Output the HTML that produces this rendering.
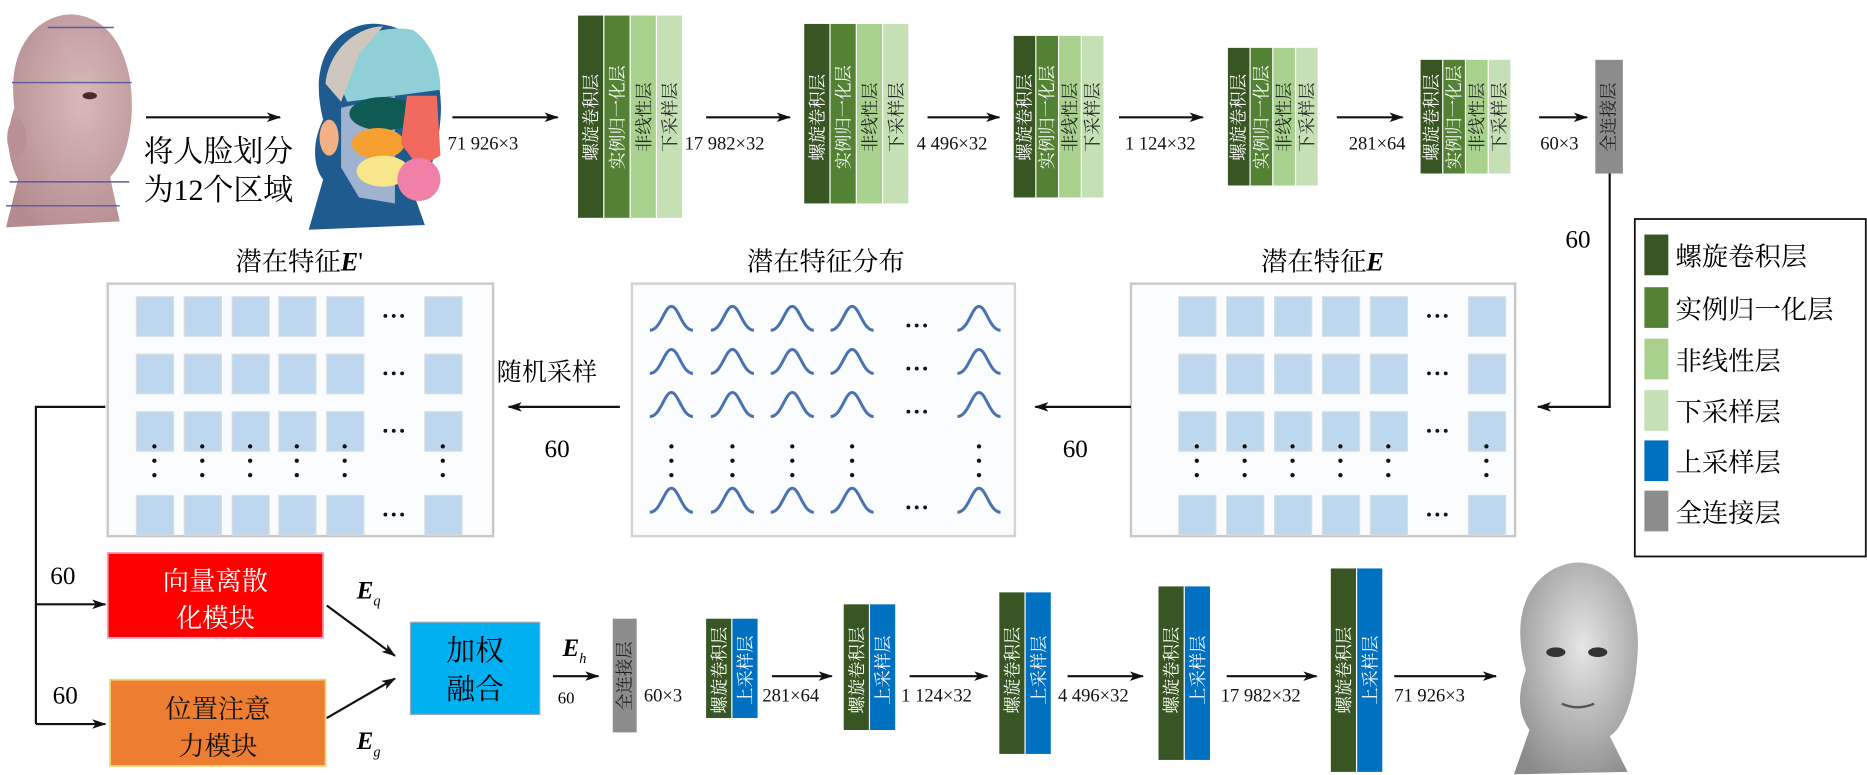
<!DOCTYPE html>
<html><head><meta charset="utf-8">
<style>
html,body{margin:0;padding:0;background:#fff;}
svg{display:block;}
text{font-family:"Liberation Serif","Noto Serif CJK SC",serif;}
.v{fill:#fff;font-size:14.5px;}
.vd{fill:#222;font-size:14.5px;}
.lab{font-size:15.5px;fill:#111;}
</style></head>
<body>
<svg width="1867" height="775" viewBox="0 0 1560 647.6" preserveAspectRatio="none" xmlns="http://www.w3.org/2000/svg">
<defs>
<marker id="ah" markerWidth="12" markerHeight="8" refX="11" refY="4" orient="auto" markerUnits="userSpaceOnUse">
<path d="M0,0 L12,4 L0,8 L3,4 Z" fill="#111"/></marker>
<radialGradient id="skin" cx="0.6" cy="0.4" r="0.7"><stop offset="0" stop-color="#d8b9bb"/><stop offset="1" stop-color="#b48c90"/></radialGradient>
<radialGradient id="gray" cx="0.55" cy="0.4" r="0.7"><stop offset="0" stop-color="#e6e6e6"/><stop offset="1" stop-color="#8a8a8a"/></radialGradient>
</defs>

<!-- Head 1 -->
<g>
<path d="M12,90 C5,35 35,12 60,12 C95,14 112,50 110,95 C108,125 100,140 92,148 L100,185 L5,190 L15,150 C5,130 5,110 12,90 Z" fill="url(#skin)"/>
<ellipse cx="14" cy="115" rx="8" ry="16" fill="#b89096"/>
<line x1="40" y1="23" x2="95" y2="23" stroke="#5a5aa0" stroke-width="1.2"/>
<line x1="10" y1="69" x2="110" y2="69" stroke="#5a5aa0" stroke-width="1.2"/>
<line x1="8" y1="152" x2="108" y2="152" stroke="#5a5aa0" stroke-width="1.2"/>
<line x1="5" y1="172" x2="100" y2="172" stroke="#5a5aa0" stroke-width="1.2"/>
<ellipse cx="75" cy="80" rx="6" ry="3" fill="#4a2a2a"/>
</g>
<line x1="122" y1="98" x2="234" y2="98" stroke="#111" stroke-width="1.8" marker-end="url(#ah)"/>
<text x="120" y="135" font-size="25">将人脸划分</text>
<text x="120" y="167" font-size="25">为12个区域</text>

<!-- Head 2 -->
<g>
<path d="M270,100 C255,40 290,18 315,20 C350,22 372,55 368,100 C365,135 355,155 345,160 L355,188 L258,192 L270,150 C262,140 260,120 270,100 Z" fill="#1f5b8f"/>
<path d="M280,60 C290,30 320,20 345,25 C360,35 368,55 368,75 L330,80 L290,85 Z" fill="#8fd0d6"/>
<path d="M272,70 C275,40 300,22 320,22 L300,45 L285,85 Z" fill="#cfc7bd"/>
<path d="M285,90 L330,80 L330,170 L300,165 L285,140 Z" fill="#9fb2d0"/>
<ellipse cx="320" cy="95" rx="28" ry="14" fill="#0f5a52"/>
<ellipse cx="316" cy="120" rx="22" ry="13" fill="#f5a030"/>
<ellipse cx="320" cy="143" rx="22" ry="13" fill="#f7e68a"/>
<path d="M340,80 L365,80 L368,130 L350,140 L335,120 Z" fill="#f26a5e"/>
<ellipse cx="350" cy="150" rx="18" ry="18" fill="#f080a8"/>
<ellipse cx="275" cy="115" rx="8" ry="15" fill="#f2b084"/>
</g>
<line x1="378" y1="98" x2="466" y2="98" stroke="#111" stroke-width="1.8" marker-end="url(#ah)"/>
<text x="374" y="125" class="lab">71 926×3</text>

<!-- Encoder block 1 -->
<g>
<rect x="483" y="13" width="21" height="169" fill="#375623"/><rect x="505" y="13" width="21" height="169" fill="#548235"/>
<rect x="527" y="13" width="21" height="169" fill="#a9d18e"/><rect x="549" y="13" width="21" height="169" fill="#c5e0b4"/>
<text class="v" transform="translate(499,98) rotate(-90)" text-anchor="middle">螺旋卷积层</text>
<text class="v" transform="translate(521,98) rotate(-90)" text-anchor="middle">实例归一化层</text>
<text class="vd" transform="translate(543,98) rotate(-90)" text-anchor="middle">非线性层</text>
<text class="vd" transform="translate(565,98) rotate(-90)" text-anchor="middle">下采样层</text>
</g>
<line x1="590" y1="98" x2="660" y2="98" stroke="#111" stroke-width="1.8" marker-end="url(#ah)"/>
<text x="572" y="125" class="lab">17 982×32</text>
<!-- block 2 -->
<g>
<rect x="672" y="20" width="21" height="150" fill="#375623"/><rect x="694" y="20" width="21" height="150" fill="#548235"/>
<rect x="716" y="20" width="21" height="150" fill="#a9d18e"/><rect x="738" y="20" width="21" height="150" fill="#c5e0b4"/>
<text class="v" transform="translate(688,98) rotate(-90)" text-anchor="middle">螺旋卷积层</text>
<text class="v" transform="translate(710,98) rotate(-90)" text-anchor="middle">实例归一化层</text>
<text class="vd" transform="translate(732,98) rotate(-90)" text-anchor="middle">非线性层</text>
<text class="vd" transform="translate(754,98) rotate(-90)" text-anchor="middle">下采样层</text>
</g>
<line x1="775" y1="98" x2="835" y2="98" stroke="#111" stroke-width="1.8" marker-end="url(#ah)"/>
<text x="766" y="125" class="lab">4 496×32</text>
<!-- block 3 -->
<g>
<rect x="847" y="30" width="18" height="135" fill="#375623"/><rect x="866" y="30" width="18" height="135" fill="#548235"/>
<rect x="885" y="30" width="18" height="135" fill="#a9d18e"/><rect x="904" y="30" width="18" height="135" fill="#c5e0b4"/>
<text class="v" transform="translate(861,98) rotate(-90)" text-anchor="middle">螺旋卷积层</text>
<text class="v" transform="translate(880,98) rotate(-90)" text-anchor="middle">实例归一化层</text>
<text class="vd" transform="translate(899,98) rotate(-90)" text-anchor="middle">非线性层</text>
<text class="vd" transform="translate(918,98) rotate(-90)" text-anchor="middle">下采样层</text>
</g>
<line x1="935" y1="98" x2="1005" y2="98" stroke="#111" stroke-width="1.8" marker-end="url(#ah)"/>
<text x="940" y="125" class="lab">1 124×32</text>
<!-- block 4 -->
<g>
<rect x="1026" y="40" width="18" height="115" fill="#375623"/><rect x="1045" y="40" width="18" height="115" fill="#548235"/>
<rect x="1064" y="40" width="18" height="115" fill="#a9d18e"/><rect x="1083" y="40" width="18" height="115" fill="#c5e0b4"/>
<text class="v" transform="translate(1040,98) rotate(-90)" text-anchor="middle">螺旋卷积层</text>
<text class="v" transform="translate(1059,98) rotate(-90)" text-anchor="middle">实例归一化层</text>
<text class="vd" transform="translate(1078,98) rotate(-90)" text-anchor="middle">非线性层</text>
<text class="vd" transform="translate(1097,98) rotate(-90)" text-anchor="middle">下采样层</text>
</g>
<line x1="1117" y1="98" x2="1172" y2="98" stroke="#111" stroke-width="1.8" marker-end="url(#ah)"/>
<text x="1127" y="125" class="lab">281×64</text>
<!-- block 5 -->
<g>
<rect x="1187" y="50" width="18" height="95" fill="#375623"/><rect x="1206" y="50" width="18" height="95" fill="#548235"/>
<rect x="1225" y="50" width="18" height="95" fill="#a9d18e"/><rect x="1244" y="50" width="18" height="95" fill="#c5e0b4"/>
<text class="v" transform="translate(1201,98) rotate(-90)" text-anchor="middle">螺旋卷积层</text>
<text class="v" transform="translate(1220,98) rotate(-90)" text-anchor="middle">实例归一化层</text>
<text class="vd" transform="translate(1239,98) rotate(-90)" text-anchor="middle">非线性层</text>
<text class="vd" transform="translate(1258,98) rotate(-90)" text-anchor="middle">下采样层</text>
</g>
<line x1="1286" y1="98" x2="1326" y2="98" stroke="#111" stroke-width="1.8" marker-end="url(#ah)"/>
<text x="1287" y="125" class="lab">60×3</text>
<rect x="1333" y="50" width="23" height="95" fill="#8c8c8c"/>
<text class="vd" transform="translate(1349,98) rotate(-90)" text-anchor="middle">全连接层</text>

<!-- connector to E -->
<polyline points="1345,145 1345,340 1285,340" fill="none" stroke="#111" stroke-width="1.8" marker-end="url(#ah)"/>
<text x="1308" y="207" font-size="21">60</text>

<!-- Legend -->
<rect x="1366" y="183" width="193" height="282" fill="#fff" stroke="#111" stroke-width="1.5"/>
<g font-size="22">
<rect x="1374" y="196" width="20" height="34" fill="#375623"/><text x="1400" y="222">螺旋卷积层</text>
<rect x="1374" y="240" width="20" height="34" fill="#548235"/><text x="1400" y="266">实例归一化层</text>
<rect x="1374" y="283" width="20" height="34" fill="#a9d18e"/><text x="1400" y="309">非线性层</text>
<rect x="1374" y="326" width="20" height="34" fill="#c5e0b4"/><text x="1400" y="352">下采样层</text>
<rect x="1374" y="368" width="20" height="34" fill="#0070c0"/><text x="1400" y="394">上采样层</text>
<rect x="1374" y="410" width="20" height="34" fill="#8c8c8c"/><text x="1400" y="436">全连接层</text>
</g>

<!-- Panels -->
<rect x="945" y="237" width="321" height="211" fill="#fbfcfd" stroke="#c8c8c8" stroke-width="2"/>
<rect x="528" y="237" width="320" height="211" fill="#fbfcfd" stroke="#d8d0d4" stroke-width="2"/>
<rect x="90" y="237" width="322" height="211" fill="#fbfcfd" stroke="#c8c8c8" stroke-width="2"/>
<text x="1105" y="226" font-size="22" text-anchor="middle">潜在特征<tspan font-weight="bold" font-style="italic">E</tspan></text>
<text x="690" y="226" font-size="22" text-anchor="middle">潜在特征分布</text>
<text x="250" y="226" font-size="22" text-anchor="middle">潜在特征<tspan font-weight="bold" font-style="italic">E</tspan>'</text>
<g id="grids"></g>

<line x1="945" y1="340" x2="865" y2="340" stroke="#111" stroke-width="1.8" marker-end="url(#ah)"/>
<text x="888" y="382" font-size="21">60</text>
<line x1="518" y1="340" x2="425" y2="340" stroke="#111" stroke-width="1.8" marker-end="url(#ah)"/>
<text x="415" y="318" font-size="21">随机采样</text>
<text x="455" y="382" font-size="21">60</text>

<!-- left bus -->
<polyline points="88,340 30,340 30,605" fill="none" stroke="#111" stroke-width="1.8"/>
<line x1="30" y1="505" x2="88" y2="505" stroke="#111" stroke-width="1.8" marker-end="url(#ah)"/>
<line x1="30" y1="605" x2="88" y2="605" stroke="#111" stroke-width="1.8" marker-end="url(#ah)"/>
<text x="42" y="488" font-size="21">60</text>
<text x="44" y="588" font-size="21">60</text>

<rect x="90" y="462" width="180" height="71" fill="#ff0000" stroke="#f0a0c0" stroke-width="1.5"/>
<text x="180" y="493" font-size="22" fill="#fff" text-anchor="middle">向量离散</text>
<text x="180" y="524" font-size="22" fill="#fff" text-anchor="middle">化模块</text>
<rect x="92" y="568" width="180" height="72" fill="#ed7d31" stroke="#f0d070" stroke-width="1.5"/>
<text x="182" y="600" font-size="22" fill="#111" text-anchor="middle">位置注意</text>
<text x="182" y="631" font-size="22" fill="#111" text-anchor="middle">力模块</text>

<line x1="273" y1="506" x2="330" y2="548" stroke="#111" stroke-width="1.8" marker-end="url(#ah)"/>
<line x1="273" y1="600" x2="330" y2="567" stroke="#111" stroke-width="1.8" marker-end="url(#ah)"/>
<text x="298" y="500" font-size="21" font-weight="bold" font-style="italic">E<tspan font-size="12" dy="6" font-weight="normal">q</tspan></text>
<text x="298" y="626" font-size="21" font-weight="bold" font-style="italic">E<tspan font-size="12" dy="6" font-weight="normal">g</tspan></text>

<rect x="343" y="520" width="108" height="77" fill="#00b0f0" stroke="#9ab" stroke-width="1"/>
<text x="397" y="552" font-size="24" text-anchor="middle">加权</text>
<text x="397" y="584" font-size="24" text-anchor="middle">融合</text>
<text x="470" y="548" font-size="21" font-weight="bold" font-style="italic">E<tspan font-size="12" dy="6" font-weight="normal">h</tspan></text>
<line x1="462" y1="565" x2="500" y2="565" stroke="#111" stroke-width="1.8" marker-end="url(#ah)"/>
<text x="466" y="588" font-size="14">60</text>

<rect x="512" y="517" width="20" height="95" fill="#8c8c8c"/>
<text class="vd" transform="translate(527,565) rotate(-90)" text-anchor="middle">全连接层</text>
<text x="538" y="586" class="lab">60×3</text>

<!-- decoder blocks -->
<g>
<rect x="590" y="517" width="21" height="83" fill="#375623"/><rect x="612" y="517" width="21" height="83" fill="#0070c0"/>
<text class="v" transform="translate(606,560) rotate(-90)" text-anchor="middle">螺旋卷积层</text>
<text class="v" transform="translate(628,560) rotate(-90)" text-anchor="middle">上采样层</text>
</g>
<line x1="645" y1="565" x2="695" y2="565" stroke="#111" stroke-width="1.8" marker-end="url(#ah)"/>
<text x="637" y="586" class="lab">281×64</text>
<g>
<rect x="705" y="505" width="21" height="105" fill="#375623"/><rect x="727" y="505" width="21" height="105" fill="#0070c0"/>
<text class="v" transform="translate(721,560) rotate(-90)" text-anchor="middle">螺旋卷积层</text>
<text class="v" transform="translate(743,560) rotate(-90)" text-anchor="middle">上采样层</text>
</g>
<line x1="760" y1="565" x2="825" y2="565" stroke="#111" stroke-width="1.8" marker-end="url(#ah)"/>
<text x="753" y="586" class="lab">1 124×32</text>
<g>
<rect x="835" y="495" width="21" height="135" fill="#375623"/><rect x="857" y="495" width="21" height="135" fill="#0070c0"/>
<text class="v" transform="translate(851,560) rotate(-90)" text-anchor="middle">螺旋卷积层</text>
<text class="v" transform="translate(873,560) rotate(-90)" text-anchor="middle">上采样层</text>
</g>
<line x1="892" y1="565" x2="955" y2="565" stroke="#111" stroke-width="1.8" marker-end="url(#ah)"/>
<text x="884" y="586" class="lab">4 496×32</text>
<g>
<rect x="968" y="490" width="21" height="145" fill="#375623"/><rect x="990" y="490" width="21" height="145" fill="#0070c0"/>
<text class="v" transform="translate(984,560) rotate(-90)" text-anchor="middle">螺旋卷积层</text>
<text class="v" transform="translate(1006,560) rotate(-90)" text-anchor="middle">上采样层</text>
</g>
<line x1="1025" y1="565" x2="1100" y2="565" stroke="#111" stroke-width="1.8" marker-end="url(#ah)"/>
<text x="1020" y="586" class="lab">17 982×32</text>
<g>
<rect x="1112" y="475" width="21" height="170" fill="#375623"/><rect x="1134" y="475" width="21" height="170" fill="#0070c0"/>
<text class="v" transform="translate(1128,560) rotate(-90)" text-anchor="middle">螺旋卷积层</text>
<text class="v" transform="translate(1150,560) rotate(-90)" text-anchor="middle">上采样层</text>
</g>
<line x1="1165" y1="565" x2="1250" y2="565" stroke="#111" stroke-width="1.8" marker-end="url(#ah)"/>
<text x="1165" y="586" class="lab">71 926×3</text>

<!-- Head 3 -->
<g>
<path d="M1275,560 C1258,500 1290,470 1320,470 C1355,472 1372,505 1368,550 C1366,585 1355,610 1345,615 L1360,645 L1265,647 L1278,610 C1268,595 1268,580 1275,560 Z" fill="url(#gray)"/>
<ellipse cx="1300" cy="545" rx="8" ry="4" fill="#333"/>
<ellipse cx="1335" cy="545" rx="8" ry="4" fill="#333"/>
<path d="M1305,588 Q1318,594 1332,588" stroke="#555" stroke-width="2" fill="none"/>
</g>

<script>
(function(){
var g=document.getElementById('grids'),ns='http://www.w3.org/2000/svg';
function el(t,a){var e=document.createElementNS(ns,t);for(var k in a)e.setAttribute(k,a[k]);g.appendChild(e);return e;}
var rows=[264,312,360,0,430];
function grid(xs,dotx){
 rows.forEach(function(cy,ri){
  if(ri===3){xs.forEach(function(x){[373,385,397].forEach(function(y){el('circle',{cx:x,cy:y,r:1.8,fill:'#111'});});});return;}
  xs.forEach(function(x){el('rect',{x:x-15,y:cy-16,width:31,height:33,fill:'#bdd7ee',stroke:'#d6dde4','stroke-width':1});});
  [-7,0,7].forEach(function(d){el('circle',{cx:dotx+d,cy:cy,r:1.6,fill:'#111'});});
 });
}
grid([1000,1040,1080,1120,1160,1242],1201);
grid([129,169,209,248,288,370],329);
var gx=[561,612,662,712,818],gr=[268,304,340,0,420];
gr.forEach(function(cy,ri){
 if(ri===3){gx.forEach(function(x){[373,385,397].forEach(function(y){el('circle',{cx:x,cy:y,r:1.8,fill:'#111'});});});return;}
 gx.forEach(function(x){el('path',{d:'M'+(x-18)+','+(cy+8)+' C'+(x-9)+','+(cy+8)+' '+(x-6)+','+(cy-12)+' '+x+','+(cy-12)+' C'+(x+6)+','+(cy-12)+' '+(x+9)+','+(cy+8)+' '+(x+18)+','+(cy+8),fill:'none',stroke:'#4a72b0','stroke-width':2.5});});
 [-7,0,7].forEach(function(d){el('circle',{cx:766+d,cy:cy+4,r:1.6,fill:'#111'});});
});
})();
</script>
</svg>
</body></html>
